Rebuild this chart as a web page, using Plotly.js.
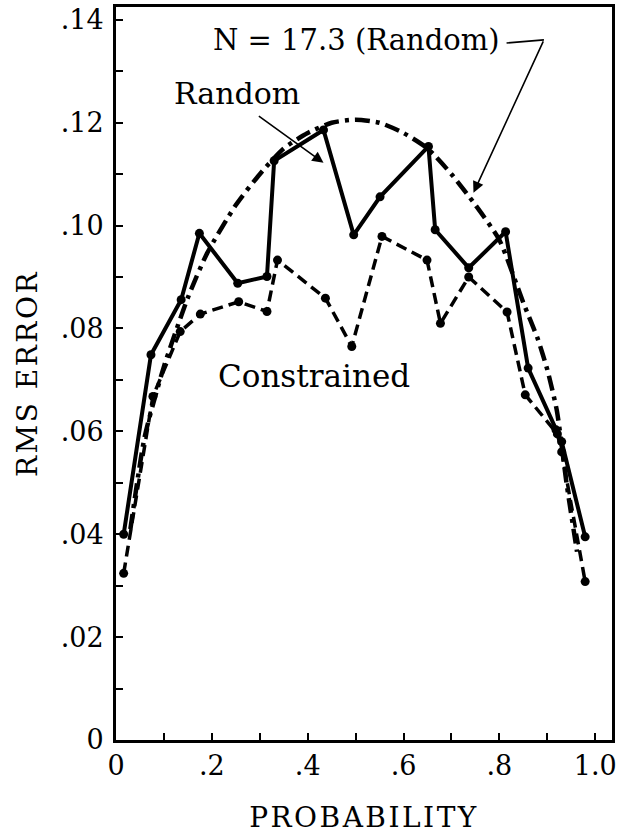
<!DOCTYPE html>
<html>
<head>
<meta charset="utf-8">
<script src="https://cdn.plot.ly/plotly-3.0.1.min.js"></script>
<style>
html,body{margin:0;padding:0;background:#fff;}
#chart{width:619px;height:834px;}
.xtitle,.ytitle{letter-spacing:2.5px;}
</style>
</head>
<body>
<div id="chart"></div>
<script>
// Random (solid line with dots)
const randomP = [0.016, 0.073, 0.136, 0.174, 0.254, 0.315, 0.330, 0.433, 0.496, 0.551, 0.652, 0.666, 0.736, 0.813, 0.860, 0.918, 0.930, 0.979];
const randomE = [0.0400, 0.0749, 0.0856, 0.0985, 0.0888, 0.0901, 0.1126, 0.1186, 0.0982, 0.1056, 0.1154, 0.0992, 0.0918, 0.0988, 0.0723, 0.0603, 0.0580, 0.0395];
// Constrained (dashed line with dots)
const constrP = [0.016, 0.077, 0.134, 0.176, 0.256, 0.315, 0.337, 0.437, 0.492, 0.555, 0.649, 0.677, 0.736, 0.816, 0.854, 0.921, 0.930, 0.979];
const constrE = [0.0324, 0.0668, 0.0794, 0.0828, 0.0852, 0.0833, 0.0933, 0.0859, 0.0765, 0.0979, 0.0933, 0.0810, 0.0900, 0.0832, 0.0671, 0.0595, 0.0560, 0.0308];
// N = 17.3 (Random) curve
const curveP = [0.030, 0.060, 0.100, 0.150, 0.190, 0.250, 0.300, 0.350, 0.400, 0.450, 0.500, 0.550, 0.600, 0.650, 0.700, 0.750, 0.800, 0.850, 0.880, 0.900, 0.920, 0.940, 0.962];
const curveE = [0.041, 0.059, 0.0726, 0.086, 0.0946, 0.104, 0.110, 0.115, 0.118, 0.1200, 0.1206, 0.1200, 0.118, 0.115, 0.110, 0.104, 0.0972, 0.085, 0.078, 0.072, 0.064, 0.050, 0.0366];

const xTickVals = [0, 0.1, 0.2, 0.3, 0.4, 0.5, 0.6, 0.7, 0.8, 0.9, 1.0];
const xTickText = ['0', '', '.2', '', '.4', '', '.6', '', '.8', '', '1.0'];
const yTickVals = [0, 0.01, 0.02, 0.03, 0.04, 0.05, 0.06, 0.07, 0.08, 0.09, 0.10, 0.11, 0.12, 0.13, 0.14];
const yTickText = ['0', '', '.02', '', '.04', '', '.06', '', '.08', '', '.10', '', '.12', '', '.14'];

const F = 'DejaVu Serif, Liberation Serif, serif';

const traces = [
  {x: curveP, y: curveE, mode: 'lines', line: {color: '#000', width: 4.5, dash: '15px,6px,4px,6px', shape: 'spline', smoothing: 0.6}},
  {x: constrP, y: constrE, mode: 'lines+markers', line: {color: '#000', width: 3.5, dash: '11px,6px'}, marker: {color: '#000', size: 9}},
  {x: randomP, y: randomE, mode: 'lines+markers', line: {color: '#000', width: 4}, marker: {color: '#000', size: 9}}
];

const layout = {
  width: 619, height: 834,
  margin: {l: 116, r: 7, t: 7, b: 94},
  paper_bgcolor: '#fff', plot_bgcolor: '#fff',
  showlegend: false,
  font: {family: F, color: '#000'},
  xaxis: {
    range: [0, 1.035], showgrid: false, zeroline: false,
    showline: true, linewidth: 3, linecolor: '#000', mirror: true,
    ticks: 'inside', ticklen: 7, tickwidth: 2, tickcolor: '#000',
    tickvals: xTickVals, ticktext: xTickText,
    tickfont: {family: F, size: 27, color: '#000'},
    title: {text: 'PROBABILITY', font: {family: F, size: 28, color: '#000'}, standoff: 30}
  },
  yaxis: {
    range: [0, 0.1425], showgrid: false, zeroline: false,
    showline: true, linewidth: 3, linecolor: '#000', mirror: true,
    ticks: 'inside', ticklen: 7, tickwidth: 2, tickcolor: '#000',
    ticklabelstandoff: 4,
    tickvals: yTickVals, ticktext: yTickText,
    tickfont: {family: F, size: 27, color: '#000'},
    title: {text: 'RMS ERROR', font: {family: F, size: 28, color: '#000'}, standoff: 15}
  },
  annotations: [
    {x: 0.502, y: 0.1361, xref: 'x', yref: 'y', text: 'N = 17.3 (Random)', showarrow: false, font: {family: F, size: 29, color: '#000'}},
    {x: 0.252, y: 0.1256, xref: 'x', yref: 'y', text: 'Random', showarrow: false, font: {family: F, size: 30, color: '#000'}},
    {x: 0.414, y: 0.0708, xref: 'x', yref: 'y', text: 'Constrained', showarrow: false, font: {family: F, size: 31, color: '#000'}},
    {x: 0.433, y: 0.1122, ax: 0.295, ay: 0.1215, xref: 'x', yref: 'y', axref: 'x', ayref: 'y', text: '', showarrow: true, arrowhead: 2, arrowsize: 1.4, arrowwidth: 1.6, arrowcolor: '#000'},
    {x: 0.746, y: 0.1064, ax: 0.893, ay: 0.1361, xref: 'x', yref: 'y', axref: 'x', ayref: 'y', text: '', showarrow: true, arrowhead: 2, arrowsize: 1.4, arrowwidth: 1.6, arrowcolor: '#000'}
  ],
  shapes: [
    {type: 'line', xref: 'x', yref: 'y', x0: 0.815, y0: 0.1355, x1: 0.893, y1: 0.1361, line: {color: '#000', width: 1.6}}
  ]
};

Plotly.newPlot('chart', traces, layout, {staticPlot: true, displayModeBar: false});
</script>
</body>
</html>
